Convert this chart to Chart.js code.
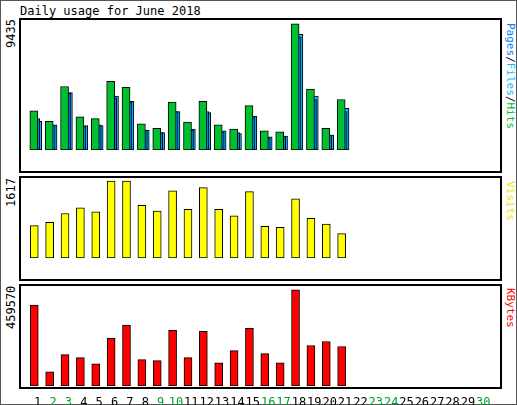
<!DOCTYPE html>
<html><head><meta charset="utf-8">
<script src="https://cdn.jsdelivr.net/npm/chart.js@4"></script>
<style>
body{margin:0;background:#fff}
#wrap{position:relative;width:515px;height:403px;border:1px solid #555;background:#fff;font-family:"DejaVu Sans Mono",monospace;font-size:11px}
.box{position:absolute;left:18px;width:479px;border:2px solid #000;box-sizing:content-box}
canvas{position:absolute;left:19px}
.lbl{position:absolute;transform:rotate(-90deg);transform-origin:left top;white-space:nowrap;font-size:12px}
.rl{position:absolute;transform:rotate(90deg);transform-origin:left top;white-space:nowrap;font-size:11px}
</style></head><body>
<div id="wrap">
  <div style="position:absolute;left:19px;top:3px;font-size:12px">Daily usage for June 2018</div>
  <div class="box" style="top:17px;height:151px"></div>
  <div class="box" style="top:175px;height:101px"></div>
  <div class="box" style="top:283px;height:101px"></div>
  <div class="lbl" style="left:3px;top:47px">9435</div>
  <div class="lbl" style="left:3px;top:206px">1617</div>
  <div class="lbl" style="left:3px;top:328px">459570</div>
  <div class="rl" style="left:516px;top:22px"><span style="color:#0080ff">Pages</span>/<span style="color:#00c0ff">Files</span>/<span style="color:#00c030">Hits</span></div>
  <div class="rl" style="left:516px;top:180px;color:#e8e800">Visits</div>
  <div class="rl" style="left:516px;top:287px;color:#ff0000">KBytes</div>
  <canvas id="c1" width="479" height="150" style="top:19px"></canvas>
  <canvas id="c2" width="479" height="100" style="top:177px"></canvas>
  <canvas id="c3" width="479" height="120" style="top:285px"></canvas>
</div>
<script>
const days = [1,2,3,4,5,6,7,8,9,10,11,12,13,14,15,16,17,18,19,20,21];
const tickDays = [1,2,3,4,5,6,7,8,9,10,11,12,13,14,15,16,17,18,19,20,21,22,23,24,25,26,27,28,29,30];
const weekendDays = [2,3,9,10,16,17,23,24,30];
const hits = [2928,2147,4750,2473,2342,5140,4685,1952,1627,3579,2082,3644,1887,1562,3319,1431,1366,9435,4555,1627,3774];
const pages = [2342,1822,4230,1757,1887,3904,3579,1497,1301,2863,1497,2863,1366,1301,2473,911,1041,8459,3774,1106,2863];
const files = [2147,1887,4295,1822,1822,4034,3644,1497,1301,2863,1562,2798,1431,1236,2538,976,1041,8654,4034,1106,3123];
const visits = [681,749,936,1055,970,1617,1617,1106,987,1413,1021,1481,1021,885,1396,664,647,1243,834,715,511];
const kbytes = [387000,67726,149970,135454,106428,227366,290255,125779,120941,266072,135454,261234,111266,169315,275742,154805,111266,459570,193503,212853,188667];

function pts(vals, shift){ return vals.map((v,i)=>({x:days[i]+shift, y:v})); }
function ds(vals, shift, color){
  return {data:pts(vals,shift), backgroundColor:color, borderColor:'#000', borderWidth:1, barThickness:8, borderSkipped:false, grouped:false};
}
function opts(max, showX){
  return {
    responsive:false, animation:false, devicePixelRatio:1,
    layout:{padding:0},
    plugins:{legend:{display:false}, tooltip:{enabled:false}},
    scales:{
      x:{type:'linear', min:0.37, max:30.5, display:showX,
         grid:{display:false}, border:{display:false},
         afterFit: s => { s.height = 20; },
         afterBuildTicks: s => { s.ticks = tickDays.map(d => ({value:d})); },
         ticks:{autoSkip:false, maxRotation:0, padding:2,
           font:{family:'DejaVu Sans Mono', size:12},
           color: c => weekendDays.includes(c.tick.value) ? '#00a030' : '#000'}},
      y:{min:0, max:max, display:false}
    }
  };
}
new Chart(document.getElementById('c1'), {type:'bar',
  data:{datasets:[ds(hits,-0.25,'#00c030'), ds(pages,-0.12,'#0080ff'), ds(files,0,'#00c0ff')]},
  options:opts(9435*1.03,false)});
new Chart(document.getElementById('c2'), {type:'bar',
  data:{datasets:[ds(visits,-0.22,'#ffff00')]},
  options:opts(1617*1.04,false)});
new Chart(document.getElementById('c3'), {type:'bar',
  data:{datasets:[ds(kbytes,-0.22,'#ff0000')]},
  options:opts(459570*1.04,true)});
</script>
</body></html>
